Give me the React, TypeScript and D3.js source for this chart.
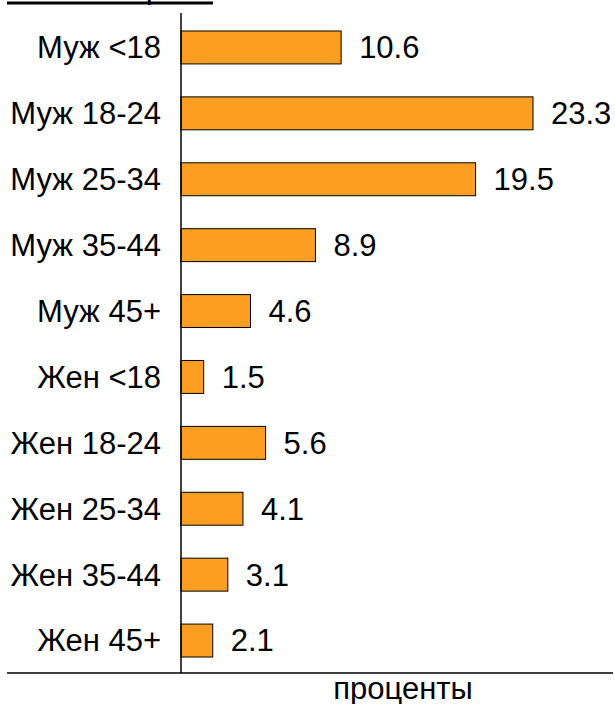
import * as d3 from "d3";

const categories = [
  "Муж <18",
  "Муж 18-24",
  "Муж 25-34",
  "Муж 35-44",
  "Муж 45+",
  "Жен <18",
  "Жен 18-24",
  "Жен 25-34",
  "Жен 35-44",
  "Жен 45+",
];
const values = [10.6, 23.3, 19.5, 8.9, 4.6, 1.5, 5.6, 4.1, 3.1, 2.1];
const title = "Пол и возраст";
const xTitle = "проценты";

const width = 615;
const height = 704;
const font = "'Liberation Sans', Arial, sans-serif";
const fontSize = 31;

export default function App() {
  const x = d3.scaleLinear().domain([0, 28]).range([181, 604]);
  const y = d3
    .scaleBand<string>()
    .domain(categories)
    .range([14.5, 673.5])
    .paddingInner(0.5)
    .paddingOuter(0.25);

  const axisBottom = 673;

  return (
    <svg
      width={width}
      height={height}
      style={{ position: "absolute", left: 0, top: 0, background: "#fff" }}
      fontFamily={font}
    >
      {/* title sits above the top edge, only its underline shows */}
      <text x={7} y={-2} fontSize={fontSize} fill="#000">
        {title}
      </text>
      <rect x={7} y={1.5} width={206} height={3} fill="#000" />

      {categories.map((c, i) => {
        const yy = y(c)!;
        const cy = yy + y.bandwidth() / 2;
        return (
          <g key={c}>
            <rect
              x={x(0)}
              y={yy}
              width={x(values[i]) - x(0)}
              height={y.bandwidth()}
              fill="#fb9e22"
              stroke="#000"
              strokeWidth={1}
            />
            <text x={161} y={cy} dy="0.35em" textAnchor="end" fontSize={fontSize} fill="#000">
              {c}
            </text>
            <text x={x(values[i]) + 18} y={cy} dy="0.35em" fontSize={fontSize} fill="#000">
              {values[i].toFixed(1)}
            </text>
          </g>
        );
      })}

      <line x1={x(0)} x2={x(0)} y1={13} y2={axisBottom} stroke="#000" strokeWidth={1.5} />
      <line x1={7} x2={613} y1={axisBottom} y2={axisBottom} stroke="#000" strokeWidth={1.5} />
      <text x={403} y={699} textAnchor="middle" fontSize={fontSize} fill="#000">
        {xTitle}
      </text>
    </svg>
  );
}
